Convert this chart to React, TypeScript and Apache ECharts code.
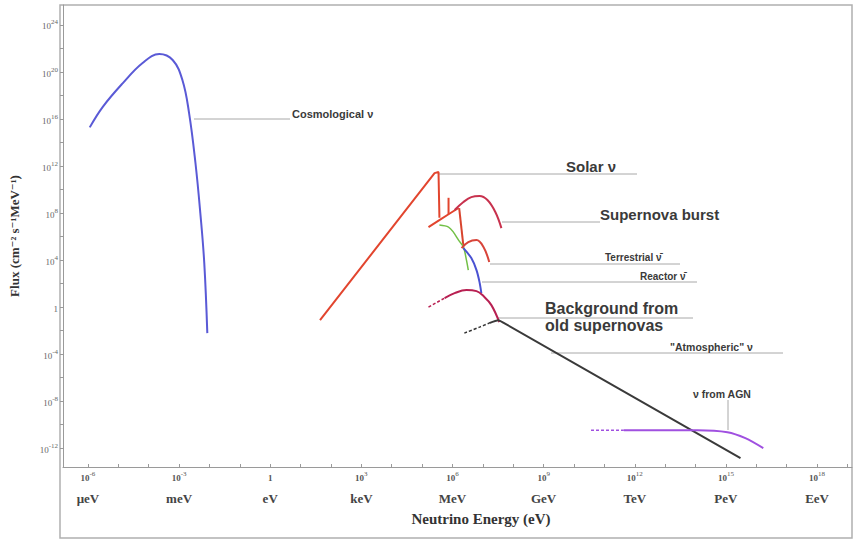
import React, { useEffect, useRef } from "react";
import * as echarts from "echarts";

// data: [log10(E / eV), log10(flux)]
const cosmological = [[-5.94, 15.29], [-5.51, 17.04], [-4.85, 19.06], [-4.2, 20.77], [-3.65, 21.53], [-3.21, 21.02], [-2.89, 19.32], [-2.67, 16.51], [-2.46, 12.26], [-2.3, 8.0], [-2.17, 3.74], [-2.07, -2.21]];
const solarMain = [[1.64, -1.11], [5.41, 11.4], [5.54, 11.5], [5.57, 7.6]];
const solarBranch = [[5.21, 6.81], [5.87, 7.9], [6.2, 8.43]];
const solarSpike = [[5.87, 7.9], [5.87, 9.3]];
const solarDrop = [[6.22, 8.43], [6.36, 5.19]];
const greenCurve = [[5.57, 6.98], [5.87, 6.81], [6.03, 6.38], [6.2, 5.7], [6.36, 5.11], [6.46, 4.0], [6.52, 3.15]];
const terrestrial = [[6.3, 5.02], [6.52, 5.53], [6.79, 5.7], [7.02, 5.11], [7.21, 3.83]];
const supernova = [[6.07, 8.26], [6.36, 8.94], [6.62, 9.36], [6.89, 9.45], [7.15, 9.11], [7.41, 8.09], [7.61, 6.72]];
const reactor = [[6.36, 5.02], [6.62, 4.17], [6.79, 3.15], [6.89, 2.13], [6.95, 1.19]];
const oldSnDashed = [[5.21, 0.0], [5.74, 0.77]];
const oldSn = [[5.74, 0.77], [6.07, 1.19], [6.46, 1.45], [6.79, 1.36], [7.02, 0.94], [7.28, 0.17], [7.54, -1.28]];
const atmosDashed = [[6.39, -2.21], [6.89, -1.7], [7.21, -1.36]];
const atmos = [[7.21, -1.36], [7.51, -1.11], [7.7, -1.36], [15.48, -12.85]];
const agnDashed = [[10.56, -10.47], [11.64, -10.47]];
const agn = [[11.64, -10.47], [14.07, -10.47], [15.05, -10.64], [15.64, -11.15], [16.23, -12.0]];

const xTickValues = [-6, -5, -4, -3, -2, -1, 0, 1, 2, 3, 4, 5, 6, 7, 8, 9, 10, 11, 12, 13, 14, 15, 16, 17, 18, 19];
const xLabelValues = [-6, -3, 0, 3, 6, 9, 12, 15, 18];
const xUnits = ["μeV", "meV", "eV", "keV", "MeV", "GeV", "TeV", "PeV", "EeV"];
const yTickValues = [-12, -10, -8, -6, -4, -2, 0, 2, 4, 6, 8, 10, 12, 14, 16, 18, 20, 22, 24];
const yLabelValues = [-12, -8, -4, 0, 4, 8, 12, 16, 20, 24];

const powRich = (v: number) => (v === 0 ? "{b|1}" : `{b|10}{s|${v}}`);

const SERIF = "'Liberation Serif', 'DejaVu Serif', serif";
const SANS = "'Liberation Sans', Arial, sans-serif";

function line(data: number[][], color: string, dashed = false, smooth: number | boolean = 0.3, width = 2) {
  return {
    type: "line",
    data,
    showSymbol: false,
    smooth,
    silent: true,
    lineStyle: { color, width: dashed ? 1.5 : width, type: dashed ? [3, 2] : "solid" },
  };
}

function leader(x1: number, y1: number, x2: number, y2: number) {
  return { type: "line", shape: { x1, y1, x2, y2 }, style: { stroke: "#a8a8a8", lineWidth: 1 }, silent: true };
}
function label(x: number, y: number, text: string, size: number) {
  return {
    type: "text",
    x,
    y,
    style: { text, fill: "#3a3a3a", font: `bold ${size}px ${SANS}`, textVerticalAlign: "middle" },
    silent: true,
  };
}

export default function App() {
  const ref = useRef<HTMLDivElement>(null);
  useEffect(() => {
    if (!ref.current) return;
    const chart = echarts.init(ref.current, null, { renderer: "svg" });
    chart.setOption({
      animation: false,
      backgroundColor: "#ffffff",
      grid: { left: 60, right: 4, top: 5, bottom: 74 },
      xAxis: {
        type: "value",
        min: -6.82,
        max: 19.15,
        splitLine: { show: false },
        axisLine: { onZero: false, lineStyle: { color: "#9a9a9a", width: 1 } },
        axisTick: { customValues: xTickValues, inside: true, length: 3, lineStyle: { color: "#9a9a9a" } },
        axisLabel: {
          customValues: xLabelValues,
          margin: 3,
          formatter: (v: number) => `${powRich(v)}\n{u|${xUnits[xLabelValues.indexOf(v)]}}`,
          rich: {
            b: { fontFamily: SERIF, fontSize: 9, fontWeight: "bold", color: "#555", lineHeight: 12, verticalAlign: "bottom" },
            s: { fontFamily: SERIF, fontSize: 7, color: "#555", lineHeight: 12, verticalAlign: "top" },
            u: { fontFamily: SERIF, fontSize: 13, fontWeight: "bold", color: "#444", lineHeight: 32 },
          },
        },
      },
      yAxis: {
        type: "value",
        min: -13.6,
        max: 25.7,
        splitLine: { show: false },
        axisLine: { show: true, onZero: false, lineStyle: { color: "#9a9a9a", width: 1 } },
        axisTick: { customValues: yTickValues, length: 3, lineStyle: { color: "#9a9a9a" } },
        axisLabel: {
          customValues: yLabelValues,
          margin: 5,
          formatter: (v: number) => powRich(v),
          rich: {
            b: { fontFamily: SERIF, fontSize: 9, color: "#666", lineHeight: 12, verticalAlign: "bottom" },
            s: { fontFamily: SERIF, fontSize: 7, color: "#666", lineHeight: 12, verticalAlign: "top" },
          },
        },
        name: "Flux (cm⁻² s⁻¹MeV⁻¹)",
        nameLocation: "middle",
        nameRotate: 90,
        nameGap: 42,
        nameTextStyle: { fontFamily: SERIF, fontSize: 13, fontWeight: "bold", color: "#333" },
      },
      series: [
        line(cosmological, "#5a5ad6", false, 0.4),
        line(solarMain, "#e2452e", false, false),
        line(solarBranch, "#e2452e", false, 0.2),
        line(solarSpike, "#e2452e", false, false),
        line(solarDrop, "#d8442e", false, false),
        line(greenCurve, "#72c046", false, 0.3, 1.5),
        line(supernova, "#c8324e", false, 0.4),
        line(terrestrial, "#d8443a", false, 0.4),
        line(reactor, "#4a52d2", false, 0.3),
        line(oldSnDashed, "#b82052", true, false),
        line(oldSn, "#b82052", false, 0.4),
        line(atmosDashed, "#333333", true, 0.3),
        line(atmos, "#3a3a3a", false, 0.2),
        line(agnDashed, "#a050e0", true, false),
        line(agn, "#a050e0", false, 0.3),
      ],
      graphic: [
        { type: "rect", shape: { x: 60, y: 5, width: 792, height: 533 }, style: { fill: "none", stroke: "#b0b0b0", lineWidth: 1.5 }, silent: true },
        {
          type: "text",
          x: 481,
          y: 519,
          style: { text: "Neutrino Energy (eV)", fill: "#333", font: `bold 15px ${SERIF}`, textAlign: "center", textVerticalAlign: "middle" },
          silent: true,
        },
        leader(194, 119, 290, 119),
        leader(438, 174, 637, 174),
        leader(502, 222, 600, 222),
        leader(490, 264, 680, 264),
        leader(482, 282, 697, 282),
        leader(498, 318, 693, 318),
        leader(551, 353, 783, 353),
        leader(728, 400, 728, 430),
        label(292, 114, "Cosmological ν", 11),
        label(566, 166, "Solar ν", 15),
        label(600, 214, "Supernova burst", 15),
        label(605, 257, "Terrestrial ν̄", 10),
        label(640, 276, "Reactor ν̄", 10),
        label(545, 308, "Background from", 16),
        label(545, 325, "old supernovas", 16),
        label(670, 347, "\"Atmospheric\" ν", 10.5),
        label(693, 394, "ν from AGN", 10.5),
      ],
    });
    return () => chart.dispose();
  }, []);
  return <div ref={ref} style={{ width: 856, height: 541, position: "absolute", left: 0, top: 0 }} />;
}
